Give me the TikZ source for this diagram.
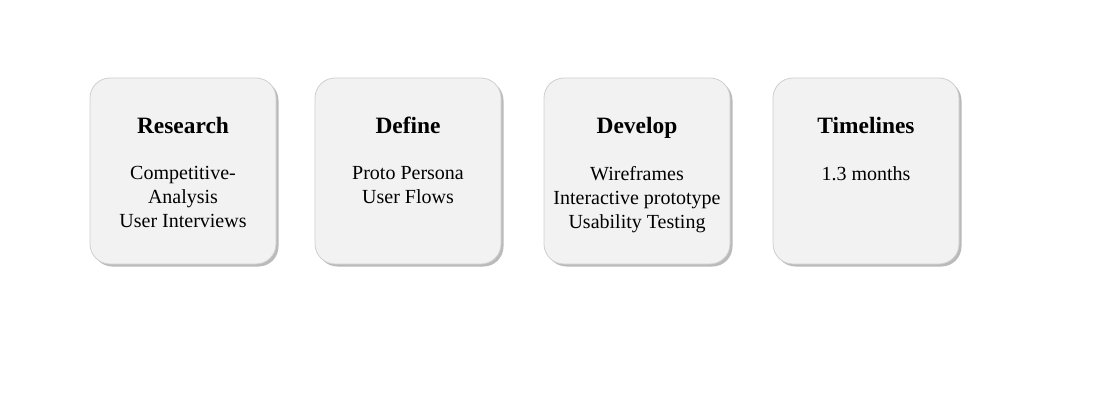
\documentclass[tikz,border=0pt]{standalone}
\usepackage{fontspec}
\setmainfont{Liberation Serif}
\usetikzlibrary{shadows}
\definecolor{cardfill}{HTML}{F2F2F2}
\definecolor{cardline}{HTML}{CFCFCF}

\begin{document}
\begin{tikzpicture}[x=1pt,y=1pt,
    card/.style={draw=cardline, fill=cardfill, rounded corners=20pt, line width=0.8pt,
        minimum width=186pt, minimum height=186pt, inner sep=0pt,
        drop shadow={shadow xshift=2.5pt, shadow yshift=-2.5pt, opacity=0.45, fill=black!60}},
    cardtitle/.style={font=\fontsize{23.4}{28}\selectfont\bfseries, anchor=base},
    cardtext/.style={font=\fontsize{20}{24}\selectfont, align=center, anchor=north}]
            \useasboundingbox (0,0) rectangle (1114,413);
            \node [card] (research) at (183,242) {};
            \node [card] (define) at (408,242) {};
            \node [card] (develop) at (637,242) {};
            \node [card] (timelines) at (866,242) {};
            \node [cardtitle] (research title) at (183,279) {Research};
            \node [cardtitle] (define title) at (408,279) {Define};
            \node [cardtitle] (develop title) at (637,279) {Develop};
            \node [cardtitle] (timelines title) at (866,279) {Timelines};
            \node [cardtext] (research text) at (183,250) {Competitive-\\Analysis\\User Interviews};
            \node [cardtext] (define text) at (408,250) {Proto Persona\\User Flows};
            \node [cardtext] (develop text) at (637,250) {Wireframes\\Interactive prototype\\Usability Testing};
            \node [cardtext] (timelines text) at (866,250) {1.3 months};
        \end{tikzpicture}
\end{document}
